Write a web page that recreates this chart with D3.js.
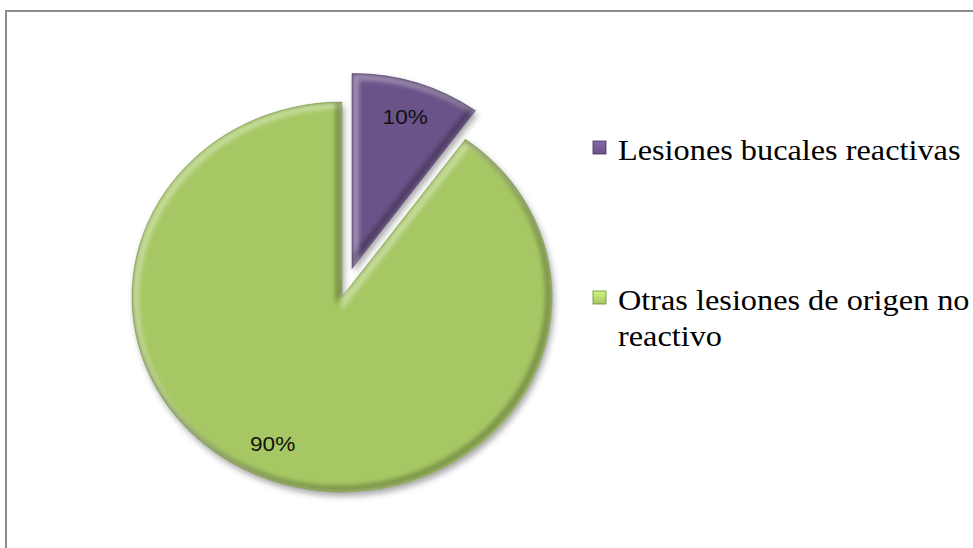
<!DOCTYPE html>
<html>
<head>
<meta charset="utf-8">
<script src="https://cdn.jsdelivr.net/npm/d3@7"></script>
<style>
  body { margin: 0; background: #fff; }
</style>
</head>
<body>
<svg></svg>
<script>

let width = 973, height = 548;
let svg = d3.select("svg")
    .attr("width", width)
    .attr("height", height)

// Data
const categories = ["Lesiones bucales reactivas", "Otras lesiones de origen no reactivo"];
const values = [10, 90];
const exploded = [true, false];
const colors = ["#6b5389", "#a6c764"];
const edgeColors = ["#463460", "#6d8d36"];

// the picture is a bit wider than tall
let sx = 1.077;
let radius = 195, labelRadius = 160, explode = 30;

let total = d3.sum(values);
let pct = d3.format(".0%");

// frame
svg.append("rect")
    .attr("x", 6).attr("y", 11)
    .attr("width", width + 20).attr("height", height + 20)
    .attr("fill", "none")
    .attr("stroke", "#8c8c8c")
    .attr("stroke-width", 2)

let defs = svg.append("defs");

let shadow = defs.append("filter").attr("id", "shadow")
    .attr("x", "-20%").attr("y", "-20%").attr("width", "140%").attr("height", "140%");
shadow.append("feDropShadow")
    .attr("dx", 2).attr("dy", 4).attr("stdDeviation", 3)
    .attr("flood-color", "#000").attr("flood-opacity", 0.35);

let soft = defs.append("filter").attr("id", "soft");
soft.append("feGaussianBlur").attr("stdDeviation", 2.2);

let pie = d3.pie().sort(null).value(d => d)(values);
let arc = d3.arc().innerRadius(0).outerRadius(radius);
let labelArc = d3.arc().innerRadius(labelRadius).outerRadius(labelRadius);

let chart = svg.append("g")
    .attr("transform", "translate(342,297) scale(" + sx + ",1)");

let slices = chart.selectAll("g.slice")
    .data(pie)
    .enter()
    .append("g")
      .attr("class", "slice")
      .attr("transform", function(d, i) {
        if (!exploded[i]) return null;
        let a = (d.startAngle + d.endAngle) / 2;
        return "translate(" + (Math.sin(a) * explode) + "," + (-Math.cos(a) * explode) + ")";
      })

slices.each(function(d, i) {
    let g = d3.select(this);
    defs.append("clipPath").attr("id", "clip" + i)
      .append("path").attr("d", arc(d));

    g.append("path")
      .attr("d", arc(d))
      .attr("fill", colors[i])
      .attr("filter", "url(#shadow)");

    // bevel: light on top-left edges, dark on bottom-right edges
    let bevel = g.append("g").attr("clip-path", "url(#clip" + i + ")");
    bevel.append("path")
      .attr("d", arc(d))
      .attr("fill", "none")
      .attr("stroke", "#fff")
      .attr("stroke-opacity", 0.35)
      .attr("stroke-width", 7)
      .attr("transform", "translate(3,3)")
      .attr("filter", "url(#soft)");
    bevel.append("path")
      .attr("d", arc(d))
      .attr("fill", "none")
      .attr("stroke", "#000")
      .attr("stroke-opacity", 0.25)
      .attr("stroke-width", 7)
      .attr("transform", "translate(-3,-3)")
      .attr("filter", "url(#soft)");

    g.append("path")
      .attr("d", arc(d))
      .attr("fill", "none")
      .attr("stroke", edgeColors[i])
      .attr("stroke-opacity", 0.6)
      .attr("stroke-width", 0.8);

    // Excel's best-fit puts the big slice's label a little further round
    let c = exploded[i] ? labelArc.centroid(d)
      : labelArc.centroid({startAngle: d.startAngle + 0.1, endAngle: d.endAngle + 0.1});
    g.append("text")
      .attr("x", c[0])
      .attr("y", c[1])
      .text(pct(d.value / total))
      .style("font-family", "'Liberation Sans', Arial, sans-serif")
      .style("font-size", "21px")
      .attr("fill", "#111")
      .attr("text-anchor", "middle")
      .attr("dominant-baseline", "central");
});

// legend
let legendX = 618, maxW = (width - legendX - 2) / sx, lineH = 36;
let legendBaselines = [160, 310];

categories.forEach(function(name, i) {
    let y = legendBaselines[i];

    let grad = defs.append("linearGradient").attr("id", "lg" + i)
        .attr("x1", 0).attr("y1", 0).attr("x2", 0).attr("y2", 1);
    grad.append("stop").attr("offset", "0%").attr("stop-color", d3.color(colors[i]).brighter(0.6));
    grad.append("stop").attr("offset", "100%").attr("stop-color", colors[i]);

    svg.append("rect")
      .attr("x", 593)
      .attr("y", y - 19)
      .attr("width", 13)
      .attr("height", 13)
      .attr("fill", "url(#lg" + i + ")")
      .attr("stroke", edgeColors[i])
      .attr("stroke-width", 0.8);

    let t = svg.append("text")
      .attr("transform", "translate(" + legendX + "," + y + ") scale(" + sx + ",1)")
      .style("font-family", "'Liberation Serif', 'Times New Roman', serif")
      .style("font-size", "30px")
      .attr("fill", "#000");

    // wrap words onto lines that fit
    let words = name.split(" "), line = [], lineNo = 0;
    let tspan = t.append("tspan").attr("x", 0).attr("y", 0);
    words.forEach(function(w) {
      line.push(w);
      tspan.text(line.join(" "));
      if (tspan.node().getComputedTextLength() > maxW && line.length > 1) {
        line.pop();
        tspan.text(line.join(" "));
        line = [w];
        lineNo++;
        tspan = t.append("tspan").attr("x", 0).attr("y", lineNo * lineH).text(w);
      }
    });
});
</script>
</body>
</html>
